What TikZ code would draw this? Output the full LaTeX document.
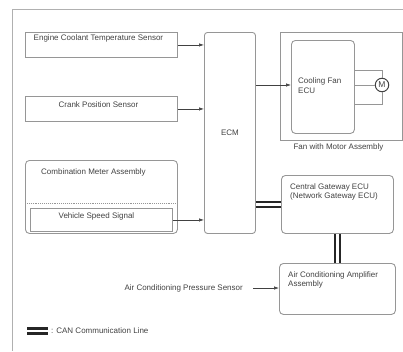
\documentclass[tikz,border=0pt]{standalone}
\usepackage{fontspec}
\setmainfont{Liberation Sans}
\definecolor{frame}{RGB}{150, 150, 150}
\definecolor{ink}{RGB}{65, 65, 65}
\usetikzlibrary{arrows.meta, positioning, calc}

\begin{document}
\begin{tikzpicture}[x=1pt, y=-1pt,
        box/.style={draw=frame, line width=0.9pt, anchor=north west, inner sep=0pt},
        rbox/.style={box, rounded corners=4pt},
        txt/.style={font=\fontsize{8}{9.6}\selectfont, text=ink, inner sep=0pt, align=left},
        arr/.style={-{Latex[length=5pt, width=3.4pt]}, ink, line width=0.6pt},
        can/.style={draw=black!85, line width=2.6pt, double=white, double distance=2.2pt},
        wire/.style={draw=frame, line width=0.9pt}
    ]
        \useasboundingbox (0,0) rectangle (403,351);
        \draw[frame!75] (403,9) -- (12,9) -- (12,351);

        \node[box, minimum width=152, minimum height=25] (ect) at (25,32) {};
        \node[txt, below=3pt of ect.north, xshift=-3pt] (ectlbl) {Engine Coolant Temperature Sensor};
        \node[box, minimum width=152, minimum height=25] (crank) at (25,96) {};
        \node[txt, below=5pt of crank.north, xshift=-3pt] (cranklbl) {Crank Position Sensor};
        \node[rbox, minimum width=152, minimum height=73] (comb) at (25,160) {};
        \node[txt, below=8pt of comb.north, xshift=-8pt] (comblbl) {Combination Meter Assembly};
        \node[box, minimum width=142, minimum height=23] (vss) at (30,208) {};
        \node[txt, below=4.5pt of vss.north, xshift=-5pt] (vsslbl) {Vehicle Speed Signal};
        \draw[frame, densely dotted, line width=0.9pt] ([yshift=5pt]vss.north -| comb.west) -- ([yshift=5pt]vss.north -| comb.east);

        \node[rbox, rounded corners=3pt, anchor=north west, minimum width=51, minimum height=201, txt] (ecm) at (204,32) {ECM};
        \draw[arr] (ect.east) -- (ect.east -| ecm.west);
        \draw[arr] (crank.east) -- (crank.east -| ecm.west);
        \draw[arr] (vss.east) -- (vss.east -| ecm.west);

        \node[box, minimum width=122, minimum height=108] (fan) at (280,32) {};
        \node[txt, below=3pt of fan.south, xshift=-3pt] (fanlbl) {Fan with Motor Assembly};
        \node[rbox, minimum width=63, minimum height=93] (ecu) at (291,40) {};
        \node[txt, anchor=west, xshift=7pt, yshift=1.5pt] (eculbl) at (ecu.west) {Cooling Fan\\ECU};
        \node[draw=ink, circle, line width=1pt, minimum size=13.5pt, inner sep=0pt, font=\fontsize{8.5}{8.5}\selectfont, text=ink] (motor) at (382,85) {M};
        \draw[wire] ([yshift=17pt]ecu.east) -| (motor.north);
        \draw[wire] ([yshift=-17pt]ecu.east) -| (motor.south);
        \draw[wire] (ecu.east |- motor.west) -- (motor.west);
        \draw[arr] (ecm.east |- motor) -- (ecu.west |- motor);

        \node[rbox, minimum width=112, minimum height=58] (cgw) at (281,175) {};
        \node[txt, anchor=north west] (cgwlbl) at ($(cgw.north west)+(9,8)$) {Central Gateway ECU\\(Network Gateway ECU)};
        \node[rbox, minimum width=116, minimum height=51] (acamp) at (279,263) {};
        \node[txt, anchor=north west] (acamplbl) at ($(acamp.north west)+(9,8)$) {Air Conditioning Amplifier\\Assembly};
        \node[txt, anchor=east] (acps) at (243,288) {Air Conditioning Pressure Sensor};
        \draw[arr, shorten <=10pt] (acps.east) -- (acps.east -| acamp.west);

        \draw[can] (cgw.west -| ecm.east) -- (cgw.west);
        \draw[can] (cgw.south) -- (cgw.south |- acamp.north);

        \coordinate (leg) at (27,331);
        \node[txt, anchor=west] (leglbl) at (51,331) {: CAN Communication Line};
        \draw[can] (leg) -- ([xshift=-3pt]leglbl.west);
    \end{tikzpicture}
\end{document}
